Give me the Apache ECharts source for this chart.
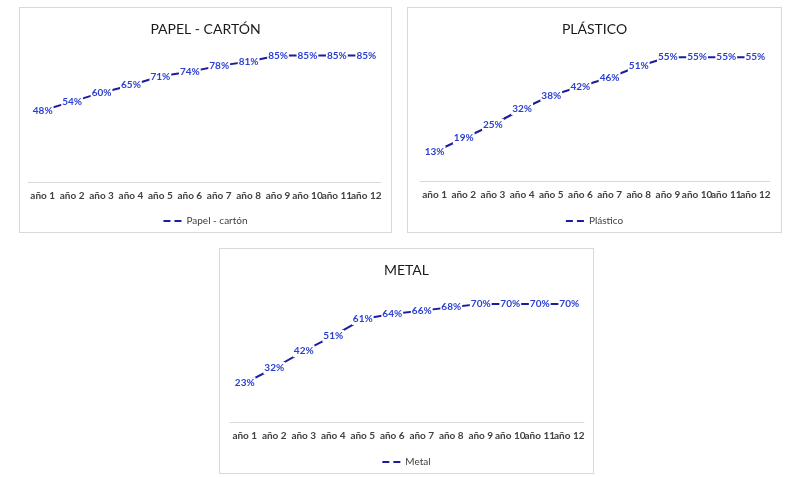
<!DOCTYPE html>
<html>
<head>
<meta charset="utf-8">
<script src="https://cdn.jsdelivr.net/npm/echarts@6/dist/echarts.min.js"></script>
<style>
  html, body { margin: 0; padding: 0; background: #ffffff; width: 798px; height: 477px; overflow: hidden; }
  .panel { position: absolute; box-sizing: border-box; border: 1px solid #d9d9d9; background: #fff; }
  .panel > div { width: 100%; height: 100%; }
</style>
</head>
<body>
<div class="panel" id="p1" style="left:19px; top:7px; width:373px; height:226px;"><div id="c1"></div></div>
<div class="panel" id="p2" style="left:407px; top:7px; width:375px; height:226px;"><div id="c2"></div></div>
<div class="panel" id="p3" style="left:219px; top:248px; width:375px; height:226px;"><div id="c3"></div></div>
<script>
// ---- data ----
const categories = ['año 1','año 2','año 3','año 4','año 5','año 6','año 7','año 8','año 9','año 10','año 11','año 12'];

const papelTitle = 'PAPEL - CARTÓN';
const papelName = 'Papel - cartón';
const papelValues = [48, 54, 60, 65, 71, 74, 78, 81, 85, 85, 85, 85];

const plasticoTitle = 'PLÁSTICO';
const plasticoName = 'Plástico';
const plasticoValues = [13, 19, 25, 32, 38, 42, 46, 51, 55, 55, 55, 55];

const metalTitle = 'METAL';
const metalName = 'Metal';
const metalValues = [23, 32, 42, 51, 61, 64, 66, 68, 70, 70, 70, 70];

const axisMax = [90, 60, 80];

// ---- styles ----
const FONT = 'Lato, "Liberation Sans", sans-serif';
const LINE_COLOR = '#1c1c9e';
const LABEL_COLOR = '#2a3fd0';

function makeOption(title, name, values, yMax, grid) {
  return {
    animation: false,
    title: {
      text: title, left: 'center', top: 9,
      textStyle: { fontFamily: FONT, fontSize: 14, fontWeight: 'normal', color: '#1a1a1a' }
    },
    legend: {
      data: [name], left: 'center', top: 203,
      icon: 'path://M0 0H7V2H0Z M11 0H18V2H11Z',
      itemWidth: 18, itemHeight: 2,
      textStyle: { fontFamily: FONT, fontSize: 10, color: '#404040' }
    },
    grid: grid,
    xAxis: {
      type: 'category', data: categories, boundaryGap: true,
      axisLine: { lineStyle: { color: '#d9d9d9', width: 1 } },
      axisTick: { show: false },
      axisLabel: { interval: 0, margin: 9, fontFamily: FONT, fontSize: 10, fontWeight: 'bold', color: '#404040' }
    },
    yAxis: {
      type: 'value', min: 0, max: yMax, show: false,
      splitLine: { show: false }
    },
    series: [{
      name: name, type: 'line', data: values,
      symbol: 'circle', symbolSize: 2,
      itemStyle: { color: LINE_COLOR },
      lineStyle: { color: LINE_COLOR, width: 2 },
      label: {
        show: true, position: 'inside', formatter: '{c}%',
        fontFamily: FONT, fontSize: 10, fontWeight: 'bold', color: LABEL_COLOR,
        backgroundColor: '#ffffff', padding: [1, 1]
      }
    }]
  };
}

const c1 = echarts.init(document.getElementById('c1'));
c1.setOption(makeOption(papelTitle, papelName, papelValues, axisMax[0],
  { left: 8, right: 10, top: 40, bottom: 50 }));

const c2 = echarts.init(document.getElementById('c2'));
c2.setOption(makeOption(plasticoTitle, plasticoName, plasticoValues, axisMax[1],
  { left: 12, right: 11, top: 38, bottom: 51 }));

const c3 = echarts.init(document.getElementById('c3'));
c3.setOption(makeOption(metalTitle, metalName, metalValues, axisMax[2],
  { left: 10, right: 9, top: 38, bottom: 51 }));
</script>
</body>
</html>
